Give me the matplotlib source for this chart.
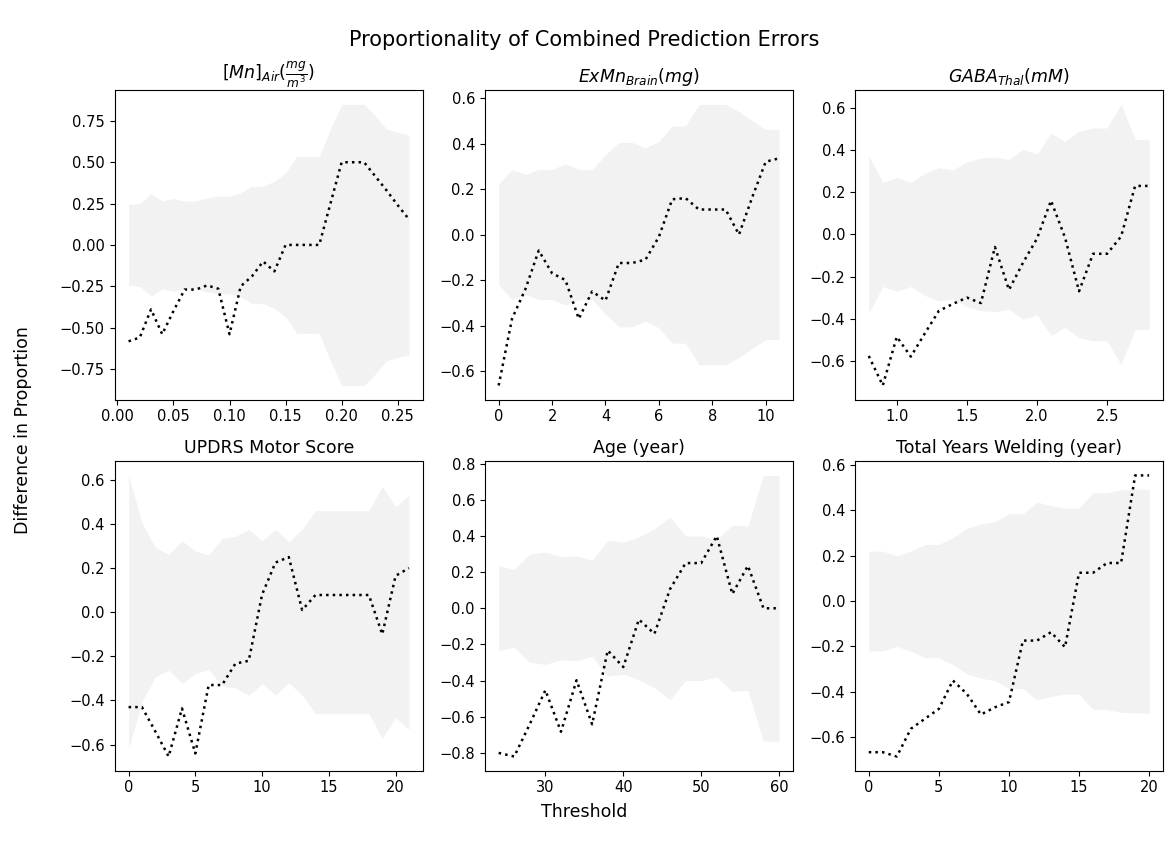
import matplotlib
matplotlib.use("Agg")
import matplotlib.pyplot as plt
import numpy as np

# ---- data ----
mn_x = [0.01, 0.02, 0.03, 0.04, 0.05, 0.06, 0.07, 0.08, 0.09, 0.10, 0.11, 0.12, 0.13,
        0.14, 0.15, 0.16, 0.17, 0.18, 0.19, 0.20, 0.21, 0.22, 0.23, 0.24, 0.25, 0.26]
mn_y = [-0.583, -0.56, -0.39, -0.54, -0.40, -0.27, -0.27, -0.245, -0.265, -0.54, -0.25, -0.19,
        -0.10, -0.16, 0.0, 0.0, 0.0, 0.0, 0.25, 0.50, 0.50, 0.50, 0.415, 0.33, 0.24, 0.155]
mn_band = [0.245, 0.25, 0.31, 0.265, 0.28, 0.265, 0.265, 0.285, 0.295, 0.295, 0.315, 0.355,
           0.355, 0.385, 0.435, 0.535, 0.535, 0.535, 0.70, 0.85, 0.85, 0.85, 0.78, 0.70, 0.68, 0.665]

brain_x = [0, 0.5, 1.0, 1.5, 2.0, 2.5, 3.0, 3.5, 4.0, 4.5, 5.0, 5.5, 6.0, 6.5, 7.0,
           7.5, 8.0, 8.5, 9.0, 9.5, 10.0, 10.5]
brain_y = [-0.663, -0.37, -0.24, -0.07, -0.17, -0.20, -0.37, -0.25, -0.29, -0.125, -0.125,
           -0.11, -0.01, 0.155, 0.16, 0.11, 0.11, 0.11, 0.0, 0.165, 0.32, 0.335]
brain_band = [0.222, 0.286, 0.264, 0.286, 0.286, 0.31, 0.286, 0.286, 0.35, 0.405, 0.405,
              0.38, 0.41, 0.477, 0.477, 0.572, 0.572, 0.572, 0.54, 0.50, 0.462, 0.462]

gaba_x = [0.8, 0.9, 1.0, 1.1, 1.2, 1.3, 1.4, 1.5, 1.6, 1.7, 1.8, 1.9, 2.0, 2.1, 2.2,
          2.3, 2.4, 2.5, 2.6, 2.7, 2.8]
gaba_y = [-0.577, -0.717, -0.486, -0.58, -0.47, -0.363, -0.33, -0.30, -0.326, -0.06, -0.263,
          -0.135, -0.02, 0.16, -0.015, -0.27, -0.092, -0.092, -0.01, 0.23, 0.23]
gaba_band = [0.375, 0.247, 0.27, 0.247, 0.29, 0.316, 0.306, 0.343, 0.362, 0.367, 0.355,
             0.403, 0.382, 0.48, 0.441, 0.49, 0.505, 0.505, 0.617, 0.451, 0.451]

updrs_x = list(range(0, 22))
updrs_y = [-0.43, -0.43, -0.54, -0.654, -0.436, -0.64, -0.33, -0.33, -0.233, -0.22, 0.08,
           0.225, 0.25, 0.01, 0.078, 0.078, 0.078, 0.078, 0.078, -0.10, 0.165, 0.20]
updrs_band = [0.62, 0.406, 0.293, 0.263, 0.323, 0.278, 0.259, 0.334, 0.343, 0.376, 0.323,
              0.376, 0.319, 0.376, 0.46, 0.46, 0.46, 0.46, 0.46, 0.571, 0.478, 0.53]

age_x = list(range(24, 61, 2))
age_y = [-0.80, -0.82, -0.64, -0.453, -0.683, -0.398, -0.642, -0.233, -0.325, -0.062,
         -0.141, 0.106, 0.25, 0.25, 0.40, 0.079, 0.235, 0.0, 0.0]
age_band = [0.235, 0.215, 0.30, 0.31, 0.285, 0.29, 0.265, 0.375, 0.365, 0.395, 0.44,
            0.505, 0.40, 0.40, 0.38, 0.46, 0.455, 0.735, 0.735]

weld_x = list(range(0, 21))
weld_y = [-0.666, -0.666, -0.685, -0.563, -0.519, -0.475, -0.35, -0.409, -0.50, -0.468,
          -0.445, -0.174, -0.174, -0.137, -0.203, 0.125, 0.125, 0.168, 0.168, 0.554, 0.554]
weld_band = [0.22, 0.22, 0.20, 0.22, 0.25, 0.25, 0.28, 0.32, 0.34, 0.35, 0.385, 0.385,
             0.437, 0.42, 0.41, 0.41, 0.478, 0.478, 0.49, 0.493, 0.493]

titles = [r'$[Mn]_{Air}(\frac{mg}{m^3})$', r'$ExMn_{Brain}(mg)$', r'$GABA_{Thal}(mM)$',
          'UPDRS Motor Score', 'Age (year)', 'Total Years Welding (year)']

panels = [(mn_x, mn_y, mn_band), (brain_x, brain_y, brain_band), (gaba_x, gaba_y, gaba_band),
          (updrs_x, updrs_y, updrs_band), (age_x, age_y, age_band), (weld_x, weld_y, weld_band)]

fig, axes = plt.subplots(2, 3, figsize=(11.69, 8.44), dpi=100)
fig.subplots_adjust(left=0.098, right=0.995, top=0.893, bottom=0.087, wspace=0.2, hspace=0.2)

for ax, (x, y, b), t in zip(axes.flat, panels, titles):
    x = np.array(x, dtype=float)
    b = np.array(b, dtype=float)
    ax.fill_between(x, -b, b, color='#f2f2f2', linewidth=0)
    ax.plot(x, y, color='black', linestyle=':', linewidth=1.8)
    ax.set_title(t, fontsize=12.5)
    ax.tick_params(labelsize=10.5)

axes[0, 0].set_xticks([0.0, 0.05, 0.10, 0.15, 0.20, 0.25])
axes[0, 0].set_yticks([-0.75, -0.5, -0.25, 0.0, 0.25, 0.5, 0.75])
axes[0, 1].set_xticks([0, 2, 4, 6, 8, 10])
axes[0, 2].set_xticks([1.0, 1.5, 2.0, 2.5])
axes[1, 0].set_xticks([0, 5, 10, 15, 20])
axes[1, 1].set_xticks([30, 40, 50, 60])
axes[1, 2].set_xticks([0, 5, 10, 15, 20])

fig.suptitle('Proportionality of Combined Prediction Errors', fontsize=15, y=0.965)
fig.text(0.02, 0.49, 'Difference in Proportion', rotation=90, ha='center', va='center', fontsize=12.5)
fig.text(0.5, 0.038, 'Threshold', ha='center', va='center', fontsize=12.5)

fig.savefig('out.png', dpi=100)
